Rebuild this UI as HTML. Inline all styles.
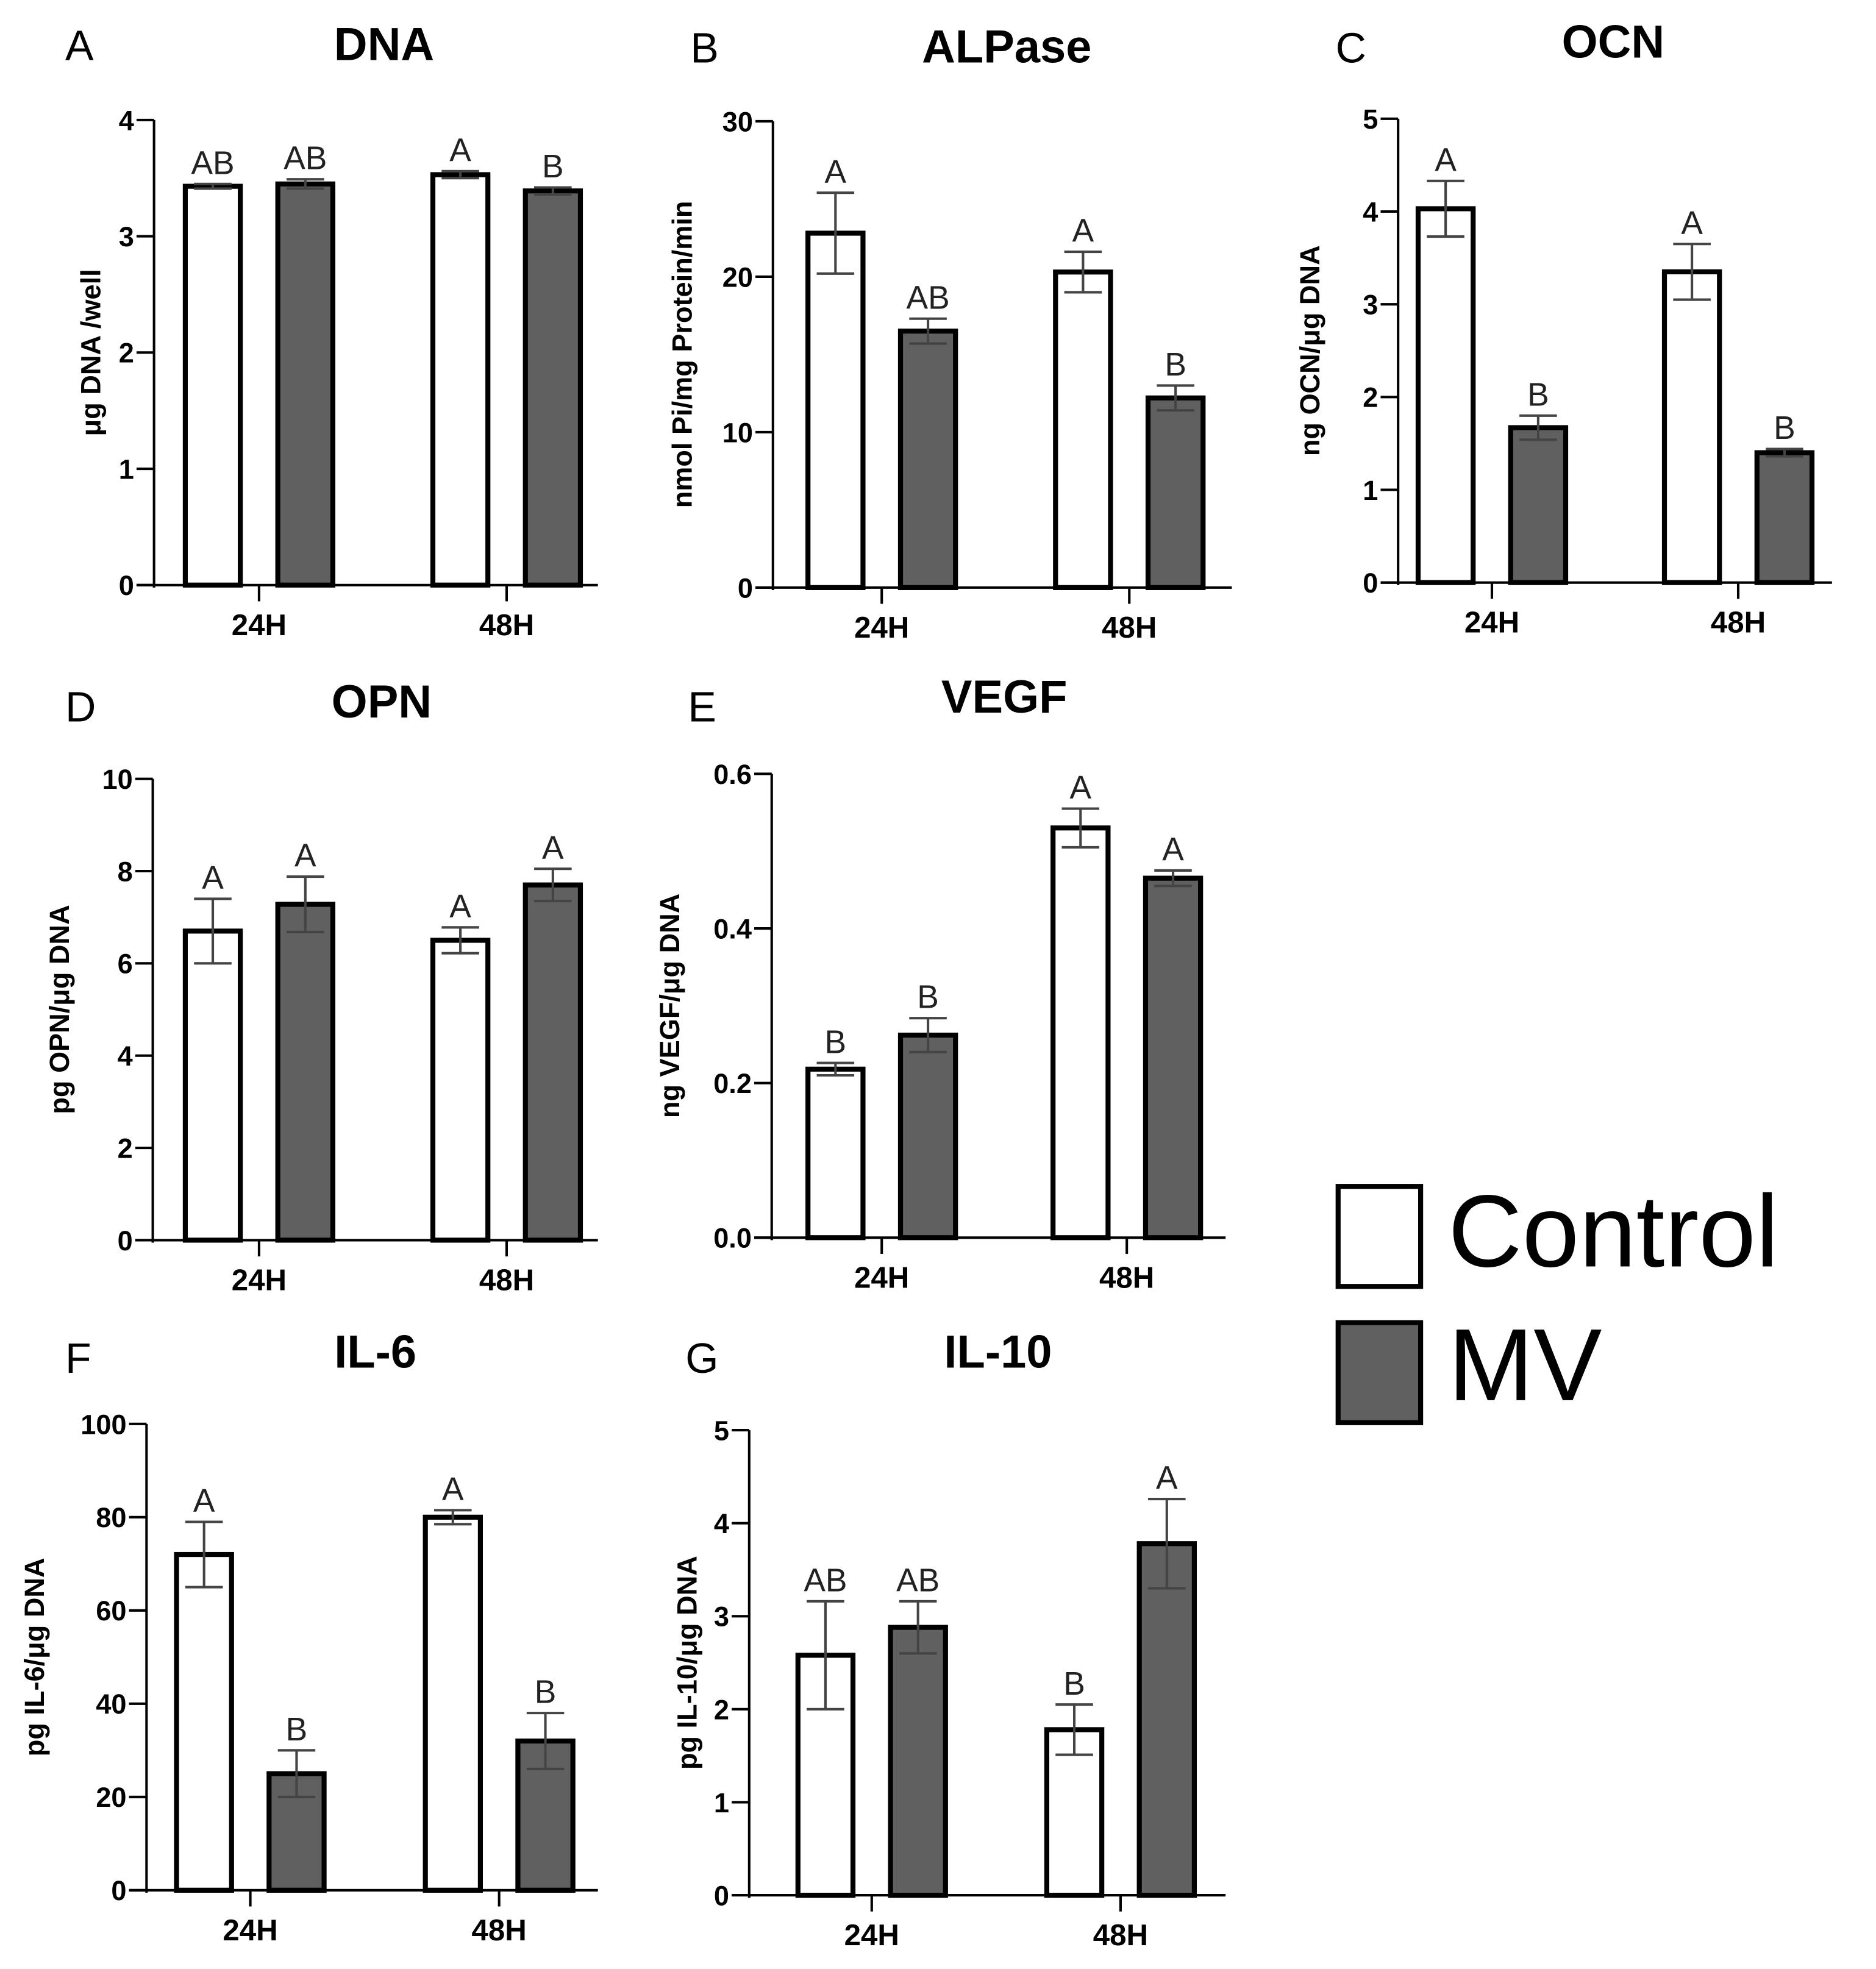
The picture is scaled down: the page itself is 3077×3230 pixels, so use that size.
<!DOCTYPE html>
<html><head><meta charset="utf-8"><style>
html,body{margin:0;padding:0;background:#fff;}
svg{display:block;}
text{font-family:"Liberation Sans",Arial,sans-serif;}
</style></head><body>
<svg id="fig" xmlns="http://www.w3.org/2000/svg" width="3077" height="3230" viewBox="0 0 1500 1575">
<rect width="1500" height="1575" fill="#fff"/>
<g>
<rect x="1070" y="949" width="66" height="80" fill="#fff" stroke="#000" stroke-width="4"/>
<text x="1158" y="1013" font-size="82">Control</text>
<rect x="1070" y="1058" width="66" height="80" fill="#606060" stroke="#000" stroke-width="4"/>
<text x="1158" y="1120" font-size="82">MV</text>
</g>
</svg>
<script>
const categories = ["24H","48H"];
const panelNames = ["DNA","ALPase","OCN","OPN","VEGF","IL-6","IL-10"];
const panelLetters = ["A","B","C","D","E","F","G"];
const yTitles = ["μg DNA /well","nmol Pi/mg Protein/min","ng OCN/μg DNA","pg OPN/μg DNA","ng VEGF/μg DNA","pg IL-6/μg DNA","pg IL-10/μg DNA"];
const yTicks = [[0,1,2,3,4],[0,10,20,30],[0,1,2,3,4,5],[0,2,4,6,8,10],[0,0.2,0.4,0.6],[0,20,40,60,80,100],[0,1,2,3,4,5]];
const yTickLabels = [["0","1","2","3","4"],["0","10","20","30"],["0","1","2","3","4","5"],["0","2","4","6","8","10"],["0.0","0.2","0.4","0.6"],["0","20","40","60","80","100"],["0","1","2","3","4","5"]];
const controlValues = [[3.43,3.53],[22.8,20.3],[4.03,3.35],[6.7,6.5],[0.218,0.53],[72,80],[2.58,1.78]];
const controlErrors = [[0.02,0.03],[2.6,1.3],[0.3,0.3],[0.7,0.28],[0.008,0.025],[7,1.5],[0.58,0.27]];
const mvValues = [[3.45,3.39],[16.5,12.2],[1.67,1.4],[7.28,7.7],[0.262,0.465],[25,32],[2.88,3.78]];
const mvErrors = [[0.04,0.03],[0.8,0.8],[0.13,0.04],[0.6,0.35],[0.022,0.01],[5,6],[0.28,0.48]];
const controlLetters = [["AB","A"],["A","A"],["A","A"],["A","A"],["B","A"],["A","A"],["AB","B"]];
const mvLetters = [["AB","B"],["AB","B"],["B","B"],["A","A"],["B","A"],["B","B"],["AB","A"]];

const layout = [
 {ax:123,top:96,base:468,right:478,c1:207,c2:405,lx:52,ly:48,tx:307,ty:48,ylx:80},
 {ax:618,top:97,base:470,right:985,c1:705,c2:903,lx:552,ly:50,tx:805,ty:50,ylx:553},
 {ax:1118,top:95,base:466,right:1465,c1:1193,c2:1390,lx:1068,ly:50,tx:1290,ty:46,ylx:1055},
 {ax:122,top:623,base:992,right:478,c1:207,c2:405,lx:52,ly:577,tx:305,ty:574,ylx:55},
 {ax:617,top:619,base:990,right:980,c1:705,c2:901,lx:550,ly:577,tx:803,ty:570,ylx:543},
 {ax:117,top:1139,base:1512,right:478,c1:200,c2:399,lx:52,ly:1098,tx:300,ty:1094,ylx:35},
 {ax:599,top:1144,base:1516,right:980,c1:697,c2:896,lx:548,ly:1098,tx:798,ty:1094,ylx:557}
];
const NS="http://www.w3.org/2000/svg";
const svg=document.getElementById('fig');
function mk(tag,attrs,parent){const e=document.createElementNS(NS,tag);for(const k in attrs)e.setAttribute(k,attrs[k]);parent.appendChild(e);return e;}
const barW=48, off=37;
panelNames.forEach((name,p)=>{
  const L=layout[p];
  const g=mk('g',{},svg);
  
  
  const ymax=yTicks[p][yTicks[p].length-1];
  const y=v=>L.base-(v/ymax)*(L.base-L.top);
  const t1=mk('text',{x:L.lx,y:L.ly,'font-size':34},g);t1.textContent=panelLetters[p];
  
  
  const t2=mk('text',{x:L.tx,y:L.ty,'font-size':37,'font-weight':'bold','text-anchor':'middle'},g);t2.textContent=name;
  
  
  const yl=mk('text',{x:L.ylx,y:(L.top+L.base)/2,'font-size':22,'font-weight':'bold','text-anchor':'middle',transform:`rotate(-90 ${L.ylx} ${(L.top+L.base)/2})`},g);yl.textContent=yTitles[p];
  
  
  const ya=mk('line',{x1:L.ax,y1:L.top,x2:L.ax,y2:L.base+2,stroke:'#000','stroke-width':2},g);
  
  
  yTicks[p].forEach((v,i)=>{
    mk('line',{x1:L.ax-14,y1:y(v),x2:L.ax,y2:y(v),stroke:'#000','stroke-width':2},g);
    const tl=mk('text',{x:L.ax-16,y:y(v)+8,'font-size':22,'font-weight':'bold','text-anchor':'end'},g);tl.textContent=yTickLabels[p][i];
    
    
  });
  const xa=mk('line',{x1:L.ax-14,y1:L.base,x2:L.right,y2:L.base,stroke:'#000','stroke-width':2},g);
  
  
  [L.c1,L.c2].forEach((cx,ci)=>{
    mk('line',{x1:cx,y1:L.base,x2:cx,y2:L.base+13,stroke:'#000','stroke-width':2},g);
    const cl=mk('text',{x:cx,y:L.base+40,'font-size':24,'font-weight':'bold','text-anchor':'middle'},g);cl.textContent=categories[ci];
    
    
    [[controlValues,controlErrors,controlLetters,'#fff',-off,'control'],[mvValues,mvErrors,mvLetters,'#606060',off,'mv']].forEach(s=>{
      const v=s[0][p][ci], e=s[1][p][ci], bx=cx+s[4];
      const r=mk('rect',{x:bx-barW/2+2,y:y(v),width:barW-4,height:L.base-y(v),fill:s[3],stroke:'#000','stroke-width':4},g);
      
      
      const eg=mk('g',{stroke:'#444','stroke-width':2},g);
      
      
      mk('line',{x1:bx,y1:y(v+e),x2:bx,y2:y(v-e)},eg);
      mk('line',{x1:bx-15,y1:y(v+e),x2:bx+15,y2:y(v+e)},eg);
      mk('line',{x1:bx-15,y1:y(v-e),x2:bx+15,y2:y(v-e)},eg);
      const lt=mk('text',{x:bx,y:y(v+e)-8,'font-size':26,'text-anchor':'middle',fill:'#222'},g);lt.textContent=s[2][p][ci];
      
      
    });
  });
});
</script>
</body></html>
